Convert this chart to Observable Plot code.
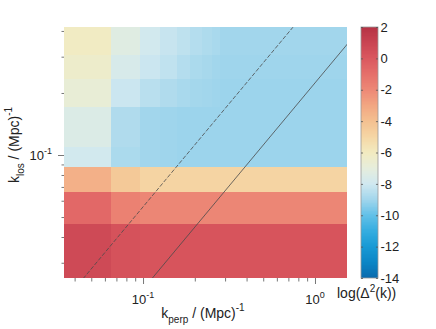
<!DOCTYPE html>
<html><head><meta charset="utf-8">
<script src="https://cdn.jsdelivr.net/npm/d3@7"></script>
<script src="https://cdn.jsdelivr.net/npm/@observablehq/plot@0.6"></script>
<style>
html,body{margin:0;padding:0;background:#fff;}
#wrap{position:relative;width:436px;height:329px;overflow:hidden;}
#wrap svg{position:absolute;top:0;background:transparent;}
</style></head><body><div id="wrap"></div>
<script>
// k_perp bin edges (Mpc^-1)
const kperpEdges = [0.0347, 0.0652, 0.0961, 0.1256, 0.1577, 0.1877, 0.22, 0.251, 0.282, 1.535];
// k_los bin edges (Mpc^-1)
const klosEdges = [0.0253, 0.0462, 0.0661, 0.0874, 0.1093, 0.171, 0.234, 0.3057, 0.418];
// log(Delta^2(k)) per k_los row (bottom to top), one value per k_perp bin
const row0 = [0.7, 0.3, 0.2, 0.2, 0.2, 0.2, 0.2, 0.2, 0.2];
const row1 = [-0.7, -1.7, -1.9, -1.9, -1.9, -1.9, -1.9, -1.9, -1.9];
const row2 = [-3.4, -4.4, -4.9, -4.9, -4.9, -4.9, -4.9, -4.9, -4.9];
const row3 = [-7.9, -8.8, -9.0, -9.05, -9.1, -9.1, -9.1, -9.1, -9.1];
const row4 = [-7.5, -8.7, -9.0, -9.05, -9.1, -9.1, -9.1, -9.1, -9.1];
const row5 = [-6.8, -8.1, -8.5, -8.7, -8.85, -8.95, -9.0, -9.05, -9.1];
const row6 = [-6.4, -7.7, -8.1, -8.35, -8.6, -8.8, -8.9, -9.0, -9.05];
const row7 = [-6.1, -7.3, -7.9, -8.2, -8.4, -8.6, -8.75, -8.85, -9.0];
const rows = [row0, row1, row2, row3, row4, row5, row6, row7];

// wedge lines (end points)
const dashedKperp = [0.0446, 0.737];
const dashedKlos = [0.0253, 0.418];
const solidKperp = [0.112, 1.535];
const solidKlos = [0.0253, 0.348];

// colour map
const colorStops = [-14, -13, -12, -11, -10, -9, -8, -7, -6, -5, -4, -3, -2, -1, 0, 1, 2];
const colorRange = ["#0a6aad", "#0b86c6", "#1799d5", "#35ade0", "#62c0e8", "#a2d6ec", "#d0e8f0", "#e6eddc", "#f2ebc0", "#f5d6a5", "#f4c090", "#f2a682", "#ed8876", "#e56f6a", "#da585f", "#c94452", "#b53244"];
const colorTicks = [2, 0, -2, -4, -6, -8, -10, -12, -14];

// ticks
const xMajor = [0.1, 1];
const xMinor = [0.04, 0.05, 0.06, 0.07, 0.08, 0.09, 0.2, 0.3, 0.4, 0.5, 0.6, 0.7, 0.8, 0.9];
const yMajor = [0.1];
const yMinor = [0.03, 0.04, 0.05, 0.06, 0.07, 0.08, 0.09, 0.2, 0.3, 0.4];

const cells = [];
rows.forEach((r, i) => r.forEach((v, j) => cells.push({
  x1: kperpEdges[j], x2: kperpEdges[j + 1], y1: klosEdges[i], y2: klosEdges[i + 1], v
})));
const dashed = dashedKperp.map((k, i) => ({x: k, y: dashedKlos[i]}));
const solid = solidKperp.map((k, i) => ({x: k, y: solidKlos[i]}));

const font = "Liberation Sans, Arial, Helvetica, sans-serif";
const colorOpts = {type: "linear", domain: colorStops, range: colorRange, interpolate: "rgb"};

const main = Plot.plot({
  width: 436, height: 329,
  marginLeft: 64, marginRight: 89, marginTop: 27, marginBottom: 51,
  style: {fontFamily: font, background: "transparent"},
  x: {type: "log", domain: [0.0347, 1.535]},
  y: {type: "log", domain: [0.0253, 0.418]},
  color: colorOpts,
  marks: [
    Plot.rect(cells, {x1: "x1", x2: "x2", y1: "y1", y2: "y2", fill: "v", shapeRendering: "crispEdges"}),
    Plot.line(dashed, {x: "x", y: "y", stroke: "#4a4a4a", strokeWidth: 0.8, strokeDasharray: "3.5,2.5", clip: true}),
    Plot.line(solid, {x: "x", y: "y", stroke: "#4a4a4a", strokeWidth: 0.8, clip: true}),
    Plot.axisX(xMinor, {tickSize: 3.5, tickFormat: () => "", stroke: "#777", label: null}),
    Plot.axisX(xMajor, {tickSize: 6, tickFormat: () => "", stroke: "#777", label: null}),
    Plot.axisY(yMinor, {tickSize: 2.5, tickFormat: () => "", stroke: "#777", label: null}),
    Plot.axisY(yMajor, {tickSize: 6, tickFormat: () => "", stroke: "#777", label: null})
  ]
});

const ramp = d3.range(-14, 2, 0.05).map(v => ({a: v, b: v + 0.05, c: v + 0.025}));
const cbar = Plot.plot({
  width: 80, height: 329,
  marginLeft: 0, marginRight: 0, marginTop: 0, marginBottom: 0,
  style: {fontFamily: font, background: "transparent"},
  x: {domain: [0, 1], range: [5, 22], axis: null},
  y: {domain: [-14, 2], range: [278, 27], axis: null},
  color: colorOpts,
  marks: [
    Plot.rect(ramp, {x1: 0, x2: 1, y1: "a", y2: "b", fill: "c", shapeRendering: "crispEdges"}),
    Plot.rect([0], {x1: 0, x2: 1, y1: -14, y2: 2, fill: "none", stroke: "#999", strokeWidth: 0.8}),
    Plot.ruleY(colorTicks, {x1: 0, x2: 0.12, stroke: "#555", strokeWidth: 0.8}),
    Plot.ruleY(colorTicks, {x1: 0.88, x2: 1, stroke: "#555", strokeWidth: 0.8}),
    Plot.text(colorTicks, {x: 1, y: d => d, dx: 2, textAnchor: "start", text: d => String(d), fontSize: 13, fill: "#222"})
  ]
});

const wrap = document.getElementById("wrap");
wrap.appendChild(main);
cbar.style.left = "356px";
wrap.appendChild(cbar);

const svg = d3.select(main);
const X = main.scale("x"), Y = main.scale("y");
function addText(x, y, parts, opts = {}) {
  const t = svg.append("text").attr("x", x).attr("y", y)
    .attr("font-family", font).attr("font-size", opts.size || 13)
    .attr("fill", "#222").attr("text-anchor", opts.anchor || "start");
  if (opts.rotate) t.attr("transform", `rotate(${opts.rotate},${x},${y})`);
  let cur = 0;
  parts.forEach(([s, shift, size]) => {
    const ts = t.append("tspan").text(s).attr("dy", shift - cur);
    if (size) ts.attr("font-size", size);
    cur = shift;
  });
  return t;
}
xMajor.forEach((v, i) => addText(X.apply(v), 304, [["10", 0], [i === 0 ? "-1" : "0", -6, 9]], {anchor: "middle"}));
yMajor.forEach(v => addText(52, Y.apply(v) + 5, [["10", 0], ["-1", -6, 9]], {anchor: "end"}));
addText(203, 318, [["k", 0], ["perp", 5, 10], [" / (Mpc)", 0], ["-1", -7, 10]], {anchor: "middle", size: 14});
addText(19, 145, [["k", 0], ["los", 5, 10], [" / (Mpc)", 0], ["-1", -7, 10]], {anchor: "middle", size: 14, rotate: -90});
addText(337, 298, [["log(Δ", 0], ["2", -6, 10], ["(k))", 0]], {size: 14});
</script></body></html>
